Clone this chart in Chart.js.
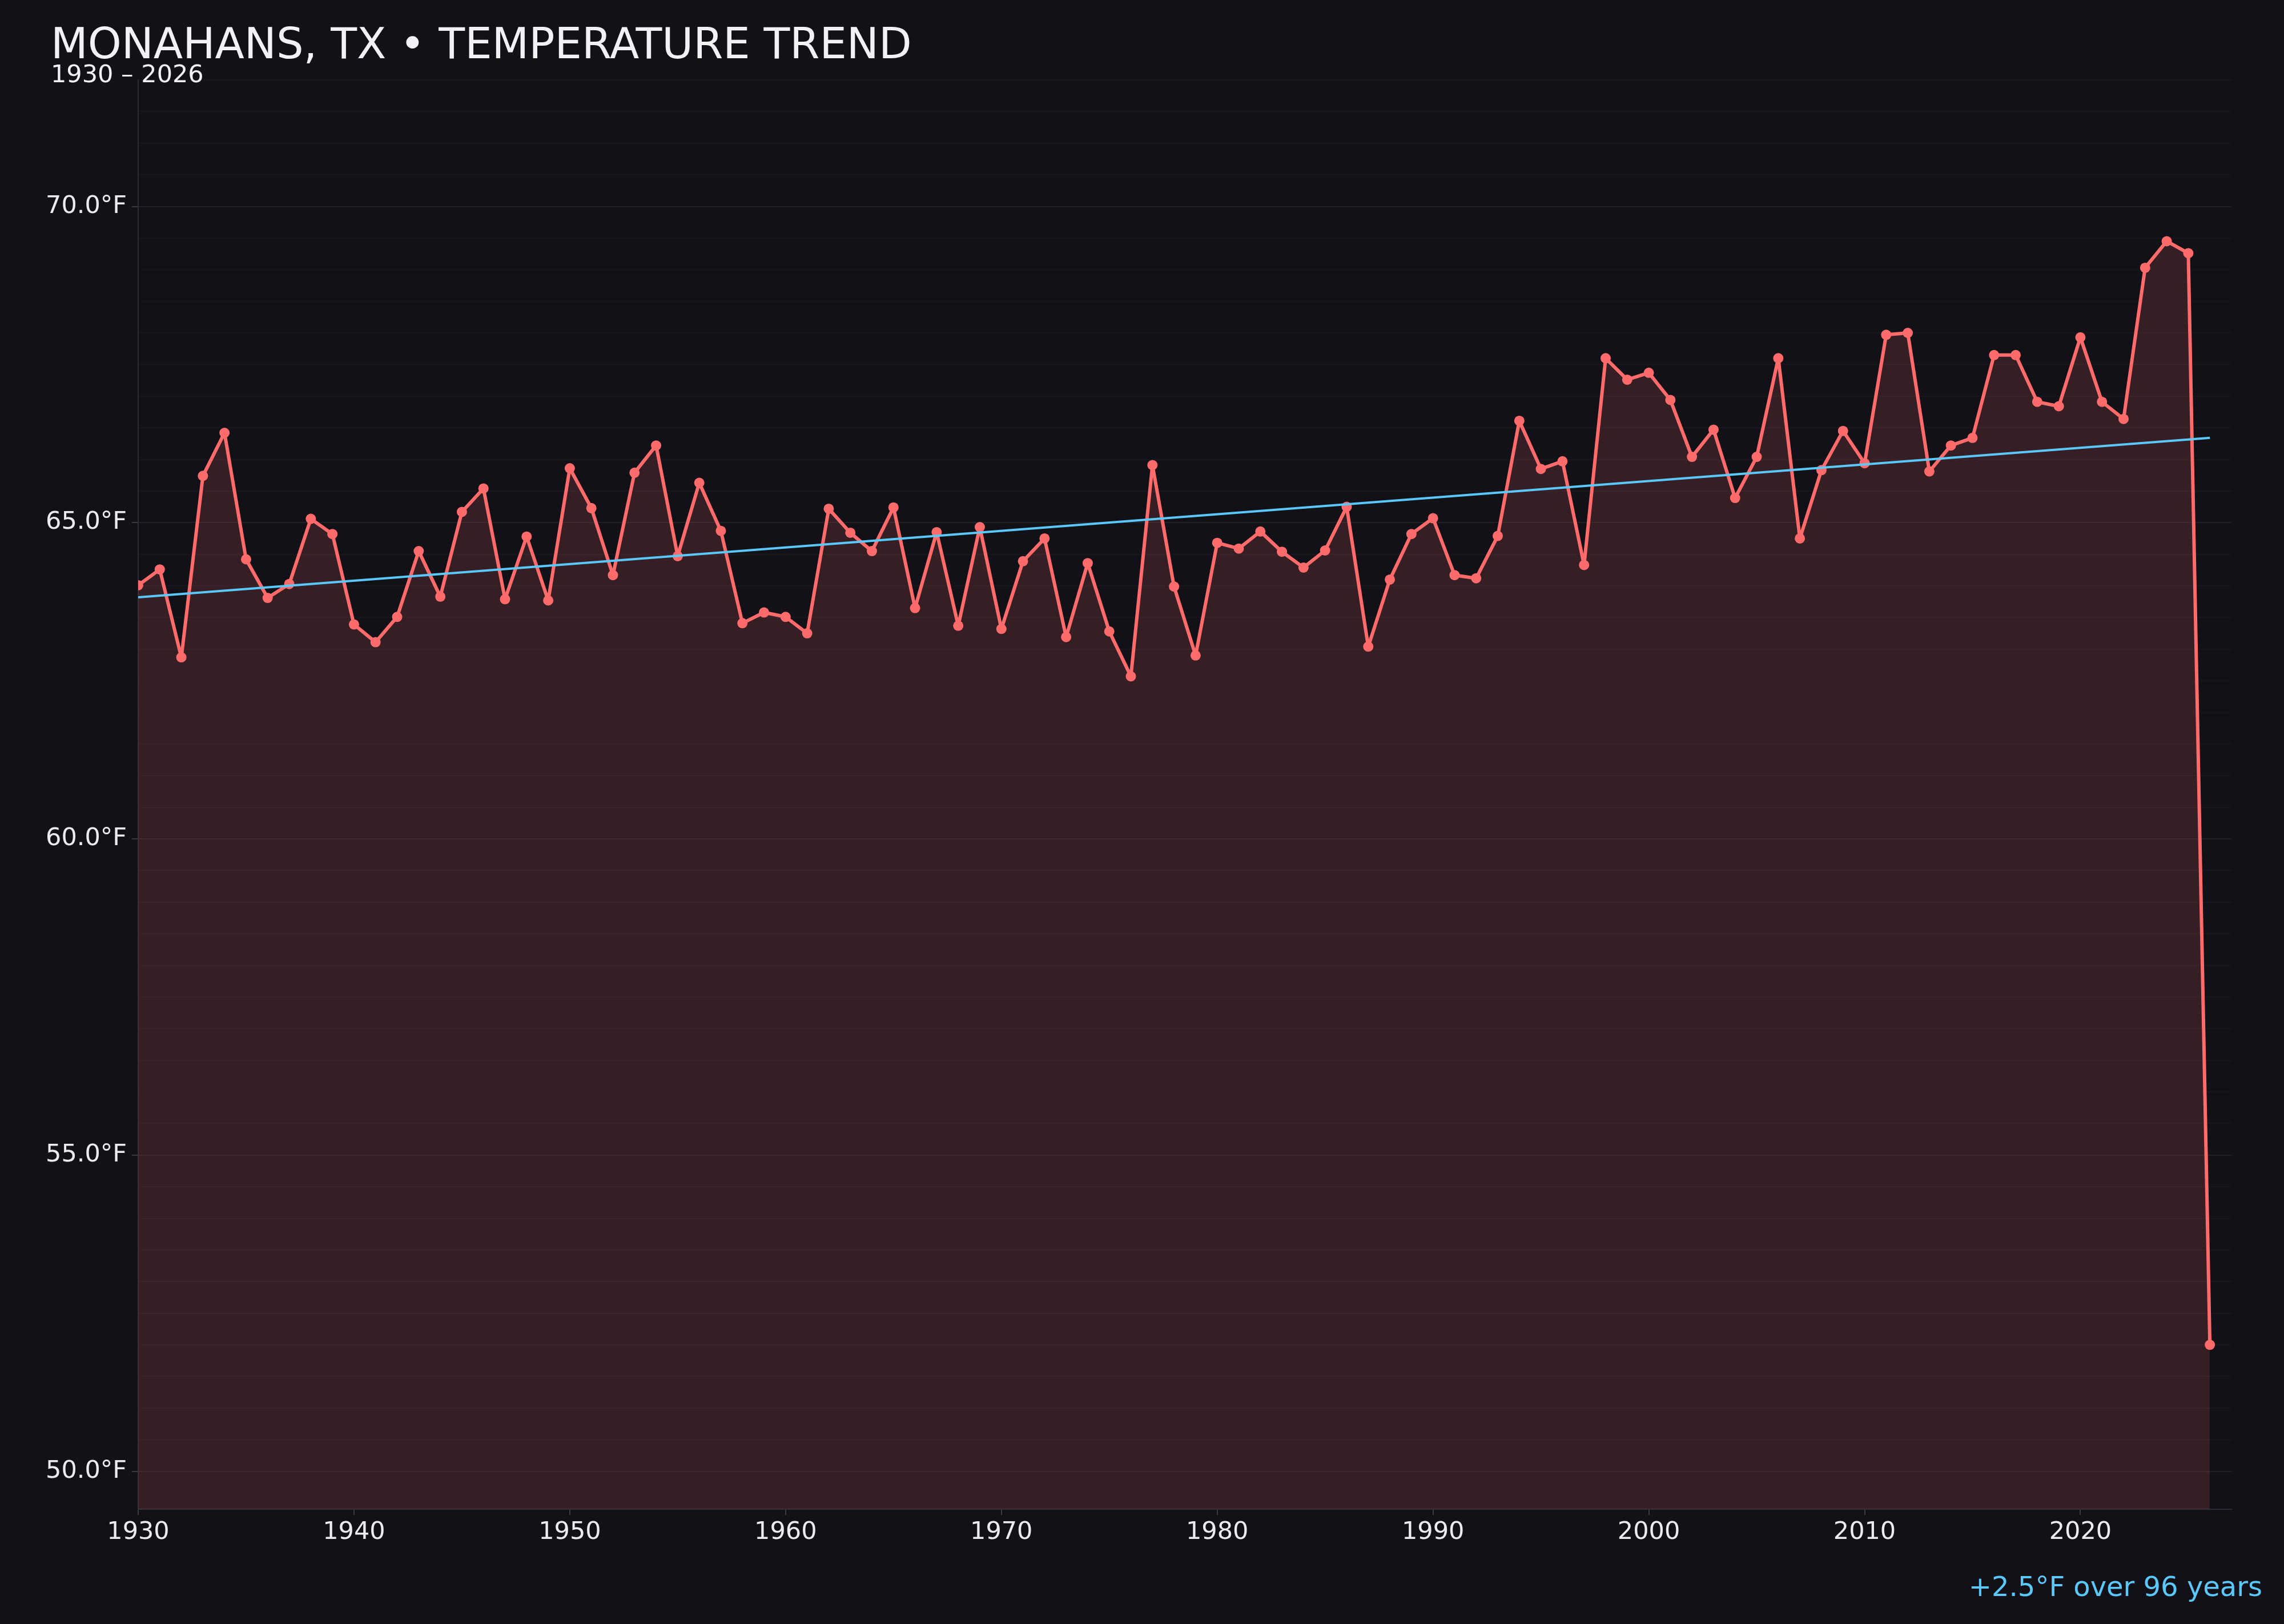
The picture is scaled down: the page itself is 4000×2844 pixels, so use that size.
<!DOCTYPE html>
<html>
<head>
<meta charset="utf-8">
<script src="https://cdn.jsdelivr.net/npm/chart.js@4.4.1/dist/chart.umd.min.js"></script>
<style>
  html, body { margin: 0; padding: 0; background: #121118; }
  #chart { display: block; }
</style>
</head>
<body>
<canvas id="chart" width="4000" height="2844"></canvas>
<script>
// Annual mean temperature, Monahans TX
const years = [
  1930, 1931, 1932, 1933, 1934, 1935, 1936, 1937, 1938, 1939,
  1940, 1941, 1942, 1943, 1944, 1945, 1946, 1947, 1948, 1949,
  1950, 1951, 1952, 1953, 1954, 1955, 1956, 1957, 1958, 1959,
  1960, 1961, 1962, 1963, 1964, 1965, 1966, 1967, 1968, 1969,
  1970, 1971, 1972, 1973, 1974, 1975, 1976, 1977, 1978, 1979,
  1980, 1981, 1982, 1983, 1984, 1985, 1986, 1987, 1988, 1989,
  1990, 1991, 1992, 1993, 1994, 1995, 1996, 1997, 1998, 1999,
  2000, 2001, 2002, 2003, 2004, 2005, 2006, 2007, 2008, 2009,
  2010, 2011, 2012, 2013, 2014, 2015, 2016, 2017, 2018, 2019,
  2020, 2021, 2022, 2023, 2024, 2025, 2026
];
const temps = [
  64.01, 64.26, 62.87, 65.74, 66.42, 64.42, 63.81, 64.03, 65.06, 64.82,
  63.39, 63.11, 63.51, 64.55, 63.83, 65.17, 65.54, 63.79, 64.78, 63.77,
  65.86, 65.23, 64.17, 65.79, 66.22, 64.47, 65.63, 64.87, 63.41, 63.58,
  63.51, 63.25, 65.22, 64.84, 64.55, 65.24, 63.65, 64.85, 63.37, 64.93,
  63.32, 64.39, 64.75, 63.19, 64.36, 63.28, 62.57, 65.91, 63.99, 62.90,
  64.68, 64.59, 64.86, 64.54, 64.29, 64.56, 65.25, 63.04, 64.10, 64.82,
  65.07, 64.17, 64.12, 64.79, 66.61, 65.85, 65.97, 64.33, 67.60, 67.26,
  67.37, 66.94, 66.04, 66.47, 65.39, 66.04, 67.60, 64.75, 65.83, 66.45,
  65.94, 67.97, 68.00, 65.81, 66.22, 66.34, 67.65, 67.65, 66.91, 66.84,
  67.93, 66.91, 66.64, 69.03, 69.45, 69.26, 52.00
];

// linear trend end points
const trendYears = [1930, 2026];
const trendTemps = [63.82, 66.34];

const titleText = 'MONAHANS, TX \u2022 TEMPERATURE TREND';
const subtitleText = '1930 \u2013 2026';
const footerText = '+2.5\u00b0F over 96 years';

const xMin = 1930, xMax = 2027, xStep = 10;
const yMin = 49.4, yMax = 72, yStep = 0.5, yMajor = 5;

const BG = '#121118';
const RED = '#ff6b6b';
const BLUE = '#5ac8fa';
const TEXT = '#ececf0';
const FONT = '"DejaVu Sans", sans-serif';

const isMajorY = v => Math.abs(v / yMajor - Math.round(v / yMajor)) < 1e-9;
const isMinorY = v => Math.abs(v / yStep - Math.round(v / yStep)) < 1e-9;

const textPlugin = {
  id: 'texts',
  beforeDraw(chart) {
    const c = chart.ctx;
    c.save();
    c.fillStyle = BG;
    c.fillRect(0, 0, chart.width, chart.height);
    c.restore();
  },
  afterDraw(chart) {
    const c = chart.ctx;
    c.save();
    c.textBaseline = 'alphabetic';
    c.textAlign = 'left';
    c.fillStyle = '#f2f2f5';
    c.font = '75px ' + FONT;
    c.fillText(titleText, 89, 102);
    c.font = '43px ' + FONT;
    c.fillText(subtitleText, 89, 144);
    c.fillStyle = BLUE;
    c.font = '48px ' + FONT;
    c.textAlign = 'right';
    c.fillText(footerText, 3962, 2795);
    c.restore();
  }
};

const ctx = document.getElementById('chart').getContext('2d');
new Chart(ctx, {
  type: 'line',
  data: {
    datasets: [
      {
        label: 'Trend',
        data: trendYears.map((y, i) => ({ x: y, y: trendTemps[i] })),
        borderColor: BLUE,
        borderWidth: 4,
        pointRadius: 0,
        fill: false,
        order: 0
      },
      {
        label: 'Temperature',
        data: years.map((y, i) => ({ x: y, y: temps[i] })),
        borderColor: RED,
        borderWidth: 6,
        borderJoinStyle: 'round',
        backgroundColor: 'rgba(255,107,107,0.15)',
        pointBackgroundColor: RED,
        pointBorderWidth: 0,
        pointRadius: 9,
        tension: 0,
        fill: 'start',
        order: 1
      }
    ]
  },
  options: {
    responsive: false,
    devicePixelRatio: 1,
    animation: false,
    layout: { padding: { left: 0, top: 140, right: 92, bottom: 0 } },
    plugins: {
      legend: { display: false },
      tooltip: { enabled: false },
      title: { display: false }
    },
    scales: {
      x: {
        type: 'linear',
        min: xMin,
        max: xMax,
        afterFit(s) { s.height = 201; },
        border: { display: true, color: '#2c2c36', width: 2 },
        grid: {
          drawOnChartArea: false,
          tickLength: 10,
          lineWidth: 2,
          tickColor: c => (c.tick && c.tick.value % xStep === 0) ? '#3a3a44' : 'rgba(0,0,0,0)'
        },
        ticks: {
          stepSize: xStep,
          autoSkip: false,
          maxRotation: 0,
          padding: 5,
          color: TEXT,
          font: { family: FONT, size: 43 },
          callback: v => (v % xStep === 0) ? String(v) : ''
        }
      },
      y: {
        min: yMin,
        max: yMax,
        afterFit(s) { s.width = 242; },
        border: { display: true, color: '#2c2c36', width: 2 },
        grid: {
          lineWidth: 2,
          tickLength: 11,
          color: c => {
            const v = c.tick ? c.tick.value : 0;
            if (isMajorY(v)) return 'rgba(255,255,255,0.06)';
            if (isMinorY(v)) return 'rgba(255,255,255,0.022)';
            return 'rgba(0,0,0,0)';
          },
          tickColor: c => (c.tick && isMajorY(c.tick.value)) ? '#3a3a44' : 'rgba(0,0,0,0)'
        },
        ticks: {
          stepSize: yStep,
          maxTicksLimit: 100,
          autoSkip: false,
          padding: 9,
          color: TEXT,
          font: { family: FONT, size: 43 },
          callback: v => isMajorY(v) ? v.toFixed(1) + '\u00b0F' : ''
        }
      }
    }
  },
  plugins: [textPlugin]
});
</script>
</body>
</html>
